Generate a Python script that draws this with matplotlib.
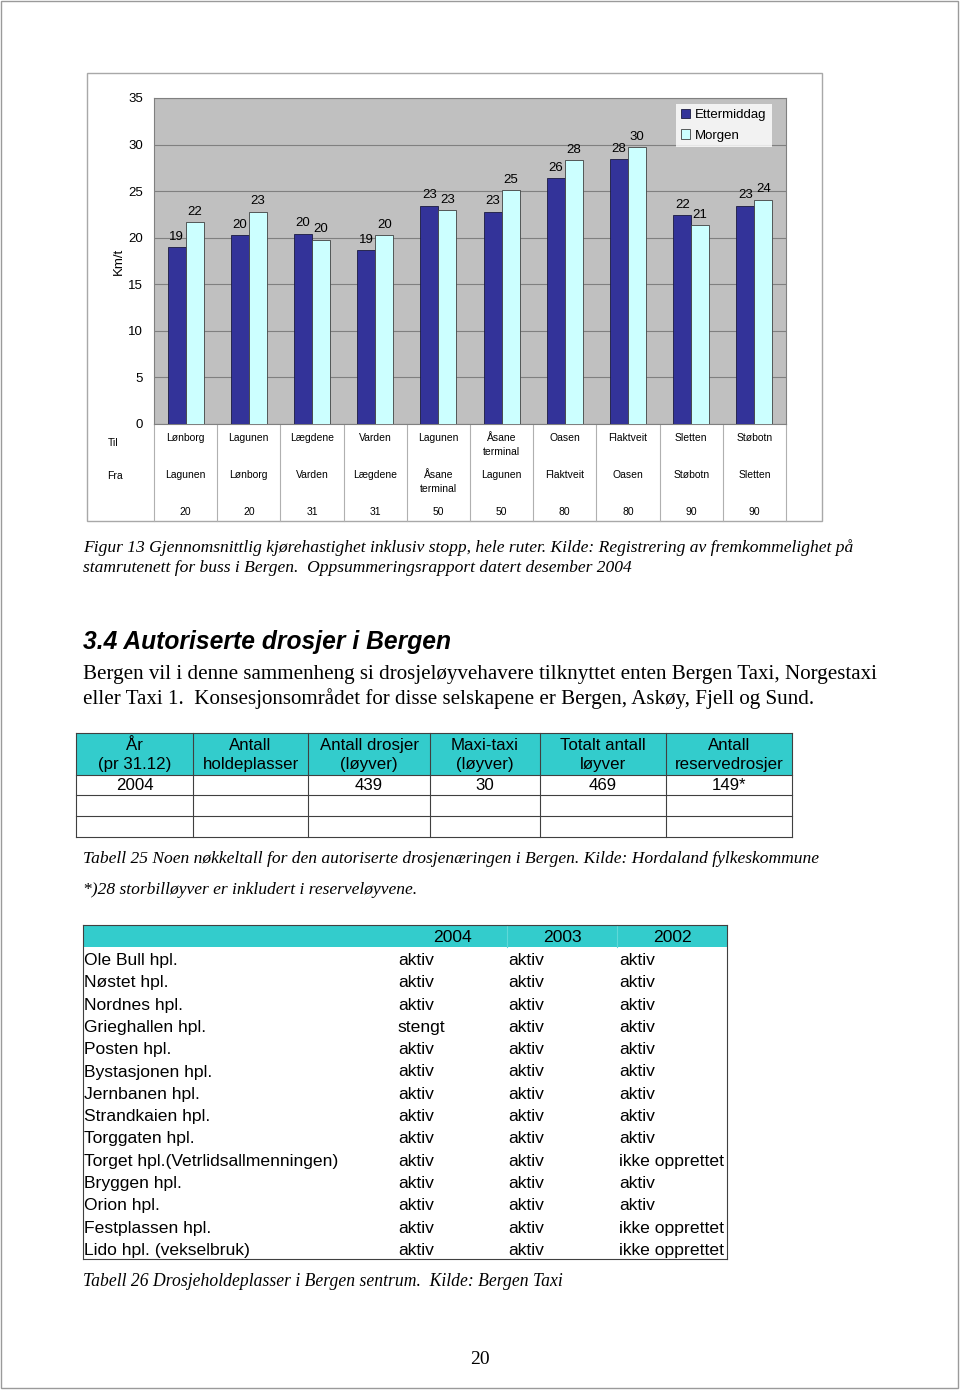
import numpy as np
import matplotlib
matplotlib.use("Agg")
import matplotlib.pyplot as plt
from matplotlib.patches import Rectangle
from matplotlib import transforms

# chart data (Figur 13)
til = ["Lønborg", "Lagunen", "Lægdene", "Varden", "Lagunen", "Åsane\nterminal",
       "Oasen", "Flaktveit", "Sletten", "Støbotn"]
fra = ["Lagunen", "Lønborg", "Varden", "Lægdene", "Åsane\nterminal", "Lagunen",
       "Flaktveit", "Oasen", "Støbotn", "Sletten"]
rute = [20, 20, 31, 31, 50, 50, 80, 80, 90, 90]
ettermiddag = [19.0, 20.3, 20.45, 18.7, 23.45, 22.8, 26.4, 28.4, 22.4, 23.45]
morgen = [21.7, 22.8, 19.8, 20.3, 23.0, 25.1, 28.3, 29.7, 21.4, 24.1]

# table 25
t25_header = ["År\n(pr 31.12)", "Antall\nholdeplasser", "Antall drosjer\n(løyver)",
              "Maxi-taxi\n(løyver)", "Totalt antall\nløyver", "Antall\nreservedrosjer"]
t25_row = ["2004", "", "439", "30", "469", "149*"]

# table 26
t26_years = ["2004", "2003", "2002"]
t26_names = ["Ole Bull hpl.", "Nøstet hpl.", "Nordnes hpl.", "Grieghallen hpl.", "Posten hpl.",
             "Bystasjonen hpl.", "Jernbanen hpl.", "Strandkaien hpl.", "Torggaten hpl.",
             "Torget hpl.(Vetrlidsallmenningen)", "Bryggen hpl.", "Orion hpl.",
             "Festplassen hpl.", "Lido hpl. (vekselbruk)"]
t26_2004 = ["aktiv", "aktiv", "aktiv", "stengt", "aktiv", "aktiv", "aktiv", "aktiv", "aktiv",
            "aktiv", "aktiv", "aktiv", "aktiv", "aktiv"]
t26_2003 = ["aktiv"] * 14
t26_2002 = ["aktiv", "aktiv", "aktiv", "aktiv", "aktiv", "aktiv", "aktiv", "aktiv", "aktiv",
            "ikke opprettet", "aktiv", "aktiv", "ikke opprettet", "ikke opprettet"]

SANS = "Liberation Sans"
SERIF = "Liberation Serif"
NAVY = "#333399"
CYAN = "#CCFFFF"
TEAL = "#33CCCC"

W, H = 960, 1390
fig = plt.figure(figsize=(W / 100, H / 100), dpi=100)

# page layer in pixel coordinates
pg = fig.add_axes([0, 0, 1, 1])
pg.set_xlim(0, W)
pg.set_ylim(H, 0)
pg.axis("off")

pg.add_patch(Rectangle((1, 1), 957, 1387, fill=False, edgecolor="#9a9a9a", lw=1))
# chart frame
pg.add_patch(Rectangle((87, 73), 735, 448, fill=False, edgecolor="#a8a8a8", lw=1))

# bar chart axes
left, right, top, bottom = 154, 786, 98, 424
ax = fig.add_axes([left / W, 1 - bottom / H, (right - left) / W, (bottom - top) / H])
ax.set_facecolor("#C0C0C0")
x = np.arange(len(til))
w = 0.285
b1 = ax.bar(x - w / 2, ettermiddag, w, color=NAVY, edgecolor="#1a1a40", lw=0.6,
            label="Ettermiddag", zorder=3)
b2 = ax.bar(x + w / 2, morgen, w, color=CYAN, edgecolor="#404040", lw=0.6,
            label="Morgen", zorder=3)
for bars, vals in ((b1, ettermiddag), (b2, morgen)):
    for rect, v in zip(bars, vals):
        ax.annotate(f"{int(v + 0.5)}", (rect.get_x() + rect.get_width() / 2, v),
                    xytext=(0, 3), textcoords="offset points", ha="center", va="bottom",
                    fontsize=9.5, family=SANS, zorder=4)
ax.set_xlim(-0.5, len(til) - 0.5)
ax.set_ylim(0, 35)
ax.set_yticks(range(0, 36, 5))
ax.set_xticks([])
ax.yaxis.grid(True, color="#808080", lw=0.8, zorder=0)
ax.set_axisbelow(True)
ax.tick_params(axis="y", length=0, labelsize=9.5, pad=8)
for lab in ax.get_yticklabels():
    lab.set_family(SANS)
for s in ax.spines.values():
    s.set_color("#808080")
    s.set_linewidth(0.8)
ax.set_ylabel("Km/t", family=SANS, fontsize=9.5, labelpad=2)
leg = ax.legend(loc="upper right", bbox_to_anchor=(0.978, 0.982),
                prop={"family": SANS, "size": 9.5}, frameon=True, fancybox=False,
                handlelength=0.7, handleheight=0.7, handletextpad=0.4,
                borderpad=0.4, labelspacing=0.6, borderaxespad=0)
leg.get_frame().set_edgecolor("white")
leg.get_frame().set_linewidth(0)

# table under the chart (x from chart data, y in page pixels)
tr = transforms.blended_transform_factory(ax.transData, pg.transData)
for k in range(len(til) + 1):
    pg.plot([k - 0.5, k - 0.5], [bottom, 521], transform=tr, color="#b0b0b0", lw=0.8)
for i in range(len(til)):
    pg.text(i, 433, til[i], transform=tr, ha="center", va="top", fontsize=7.5,
            family=SANS, linespacing=1.45)
    pg.text(i, 470, fra[i], transform=tr, ha="center", va="top", fontsize=7.5,
            family=SANS, linespacing=1.45)
    pg.text(i, 512, str(rute[i]), transform=tr, ha="center", va="center", fontsize=7.5,
            family=SANS)
pg.text(113, 443, "Til", ha="center", va="center", fontsize=7.5, family=SANS)
pg.text(115, 476, "Fra", ha="center", va="center", fontsize=7.5, family=SANS)

# captions and body text
pg.text(83, 548, "Figur 13 Gjennomsnittlig kjørehastighet inklusiv stopp, hele ruter. Kilde: "
        "Registrering av fremkommelighet på", ha="left", va="center", fontsize=12.6,
        family=SERIF, style="italic")
pg.text(83, 568, "stamrutenett for buss i Bergen.  Oppsummeringsrapport datert desember 2004",
        ha="left", va="center", fontsize=12.6, family=SERIF, style="italic")
pg.text(83, 642, "3.4 Autoriserte drosjer i Bergen", ha="left", va="center", fontsize=17.7,
        family=SANS, style="italic", weight="bold")
pg.text(83, 674, "Bergen vil i denne sammenheng si drosjeløyvehavere tilknyttet enten Bergen "
        "Taxi, Norgestaxi", ha="left", va="center", fontsize=15.1, family=SERIF)
pg.text(83, 699, "eller Taxi 1.  Konsesjonsområdet for disse selskapene er Bergen, Askøy, "
        "Fjell og Sund.", ha="left", va="center", fontsize=15.1, family=SERIF)

# table 25
cols = [76, 193, 308, 430, 540, 666, 792]
rows = [733, 775, 795, 816, 837]
pg.add_patch(Rectangle((cols[0], rows[0]), cols[-1] - cols[0], rows[1] - rows[0],
                       facecolor=TEAL, edgecolor="none"))
for c in cols:
    pg.plot([c, c], [rows[0], rows[-1]], color="#404040", lw=0.8)
for r in rows:
    pg.plot([cols[0], cols[-1]], [r, r], color="#404040", lw=0.8)
for j in range(len(t25_header)):
    cx = (cols[j] + cols[j + 1]) / 2
    pg.text(cx, 755, t25_header[j], ha="center", va="center", fontsize=12.2, family=SANS,
            linespacing=1.28)
    pg.text(cx, 785, t25_row[j], ha="center", va="center", fontsize=12.2, family=SANS)

pg.text(83, 859, "Tabell 25 Noen nøkkeltall for den autoriserte drosjenæringen i Bergen. "
        "Kilde: Hordaland fylkeskommune", ha="left", va="center", fontsize=12.6,
        family=SERIF, style="italic")
pg.text(83, 890, "*)28 storbilløyver er inkludert i reserveløyvene.", ha="left", va="center",
        fontsize=12.6, family=SERIF, style="italic")

# table 26
tl, trt, ttop, tbot = 83, 727, 925, 1259
pg.add_patch(Rectangle((tl, ttop), trt - tl, 22, facecolor=TEAL, edgecolor="none"))
for sx in (507, 617):
    pg.plot([sx, sx], [ttop, ttop + 22], color="#5fd8d8", lw=0.8)
pg.plot([tl, tl], [ttop, tbot], color="#404040", lw=0.8)
pg.plot([trt, trt], [ttop, tbot], color="#404040", lw=0.8)
pg.plot([tl, trt], [tbot, tbot], color="#404040", lw=0.8)
pg.plot([tl, trt], [ttop, ttop], color="#404040", lw=0.8)
for yr, cx in zip(t26_years, (452, 562, 672)):
    pg.text(cx, 937, yr, ha="center", va="center", fontsize=12.6, family=SANS)
for i in range(len(t26_names)):
    yy = 960.5 + 22.3 * i
    pg.text(84, yy, t26_names[i], ha="left", va="center", fontsize=12.6, family=SANS)
    pg.text(398, yy, t26_2004[i], ha="left", va="center", fontsize=12.6, family=SANS)
    pg.text(508, yy, t26_2003[i], ha="left", va="center", fontsize=12.6, family=SANS)
    pg.text(619, yy, t26_2002[i], ha="left", va="center", fontsize=12.6, family=SANS)

pg.text(83, 1281, "Tabell 26 Drosjeholdeplasser i Bergen sentrum.  Kilde: Bergen Taxi",
        ha="left", va="center", fontsize=12.7, family=SERIF, style="italic")
pg.text(480, 1359, "20", ha="center", va="center", fontsize=14, family=SERIF)

fig.savefig("out.png", dpi=100)
